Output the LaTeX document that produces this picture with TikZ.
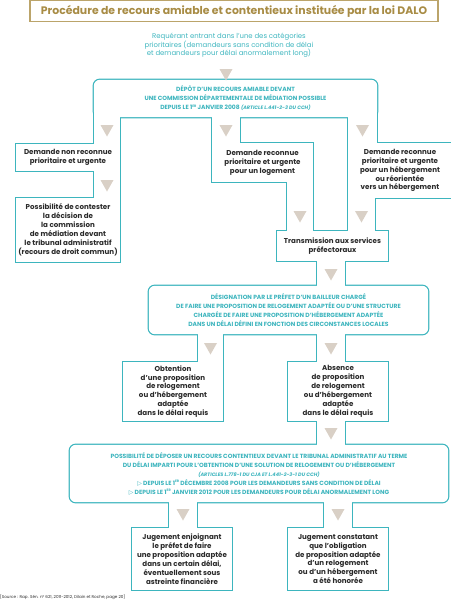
\documentclass[tikz,border=0pt]{standalone}
\usepackage{fontspec}
\setmainfont{Poppins}
\newfontfamily\dejavu{DejaVu Sans}
\usetikzlibrary{calc}
\pgfdeclarelayer{strk}
\pgfdeclarelayer{fil}
\pgfsetlayers{strk,fil,main}
\definecolor{tealc}{HTML}{3DB5BE}
\definecolor{taupe}{HTML}{D9D0C6}
\definecolor{goldline}{HTML}{BBA46A}
\definecolor{goldtext}{HTML}{A88C45}
\definecolor{txt}{HTML}{2A2A2A}
\tikzset{
  boxtext/.style={font=\fontsize{7.1}{8.9}\selectfont\bfseries, text=txt, align=center, inner sep=0pt},
  captext/.style={font=\fontsize{6.0}{9}\selectfont\bfseries, text=tealc, align=center, inner sep=0pt},
}
\newcommand\partshape[1]{%
  \begin{pgfonlayer}{strk}\draw[tealc, line width=2.4pt] #1;\end{pgfonlayer}%
  \begin{pgfonlayer}{fil}\fill[white] #1;\end{pgfonlayer}}
\newcommand\pipe[4]{\partshape{let \p1=(#3.south), \p2=(#4.north) in (#1pt,\y1+4pt) rectangle (#2pt,\y2-4pt)}}
\newcommand\boxpart[1]{\partshape{(#1.north west) rectangle (#1.south east)}}
\newcommand\rboxpart[1]{\partshape{[rounded corners=6pt] (#1.north west) rectangle (#1.south east)}}
\newcommand\tri[2]{\fill[taupe] (#1-6.5,#2) -- (#1+6.5,#2) -- (#1,#2+11.5) -- cycle;}
\newcommand\artfont{\fontsize{4.9}{9}\selectfont\itshape}
\newcommand\ordER{\raisebox{2.2pt}{\fontsize{3.4}{4}\selectfont ER}}
\begin{document}
\begin{tikzpicture}[x=1pt,y=-1pt]
\useasboundingbox (0,0) rectangle (450,605);
% title
\node[draw=goldline, line width=1.8pt, minimum width=408pt, minimum height=21pt, inner sep=0pt,
  font=\fontsize{10.9}{12}\selectfont\bfseries, text=goldtext] (title) at (234,11) {Procédure de recours amiable et contentieux instituée par la loi DALO};
\node[font=\fontsize{6.9}{8.5}\selectfont, text=tealc, align=center, inner sep=0pt] (req) at (229,45.5)
  {Requérant entrant dans l’une des catégories\\prioritaires (demandeurs sans condition de délai\\et demandeurs pour délai anormalement long)};
% nodes
\node[captext, minimum width=283pt, minimum height=37pt] (depot) at (235.5,98.5)
  {DÉPÔT D’UN RECOURS AMIABLE DEVANT\\UNE COMMISSION DÉPARTEMENTALE DE MÉDIATION POSSIBLE\\DEPUIS LE 1\ordER{} JANVIER 2008 {\artfont (ARTICLE L.441-2-3 DU CCH)}};
\node[boxtext, minimum width=104pt, minimum height=27pt] (nonrec) at (68,157.5)
  {Demande non reconnue\\prioritaire et urgente};
\node[boxtext, minimum width=104pt, minimum height=64pt] (possib) at (68,230)
  {Possibilité de contester\\la décision de\\la commission\\de médiation devant\\le tribunal administratif\\(recours de droit commun)};
\node[boxtext, minimum width=101pt, minimum height=39pt] (logement) at (262.5,162.5)
  {Demande reconnue\\prioritaire et urgente\\pour un logement};
\node[boxtext, minimum width=104pt, minimum height=55pt] (heberg) at (400,170.5)
  {Demande reconnue\\prioritaire et urgente\\pour un hébergement\\ou réorientée\\vers un hébergement};
\node[boxtext, minimum width=111pt, minimum height=30pt] (trans) at (332.5,246)
  {Transmission aux services\\préfectoraux};
\node[captext, minimum width=279pt, minimum height=48pt] (desig) at (288.5,310)
  {DÉSIGNATION PAR LE PRÉFET D’UN BAILLEUR CHARGÉ\\DE FAIRE UNE PROPOSITION DE RELOGEMENT ADAPTÉE OU D’UNE STRUCTURE\\CHARGÉE DE FAIRE UNE PROPOSITION D’HÉBERGEMENT ADAPTÉE\\DANS UN DÉLAI DÉFINI EN FONCTION DES CIRCONSTANCES LOCALES};
\node[boxtext, minimum width=100pt, minimum height=59pt] (obt) at (173,391.5)
  {Obtention\\d’une proposition\\de relogement\\ou d’hébergement\\adaptée\\dans le délai requis};
\node[boxtext, minimum width=100pt, minimum height=59pt] (abs) at (338,391.5)
  {Absence\\de proposition\\de relogement\\ou d’hébergement\\adaptée\\dans le délai requis};
\node[captext, minimum width=378pt, minimum height=57pt] (conten) at (259,473.5)
  {POSSIBILITÉ DE DÉPOSER UN RECOURS CONTENTIEUX DEVANT LE TRIBUNAL ADMINISTRATIF AU TERME\\DU DÉLAI IMPARTI POUR L’OBTENTION D’UNE SOLUTION DE RELOGEMENT OU D’HÉBERGEMENT\\{\artfont (ARTICLES L.778-1 DU CJA ET L.441-2-3-1 DU CCH)}\\{\dejavu\mdseries ▷} DEPUIS LE 1\ordER{} DÉCEMBRE 2008 POUR LES DEMANDEURS SANS CONDITION DE DÉLAI\\{\dejavu\mdseries ▷} DEPUIS LE 1\ordER{} JANVIER 2012 POUR LES DEMANDEURS POUR DÉLAI ANORMALEMENT LONG};
\node[boxtext, minimum width=100pt, minimum height=62pt] (jug1) at (182,559)
  {Jugement enjoignant\\le préfet de faire\\une proposition adaptée\\dans un certain délai,\\éventuellement sous\\astreinte financière};
\node[boxtext, minimum width=100pt, minimum height=62pt] (jug2) at (338,559)
  {Jugement constatant\\que l’obligation\\de proposition adaptée\\d’un relogement\\ou d’un hébergement\\a été honorée};
\node[anchor=west, inner sep=0pt, text=txt] (src) at (0,597)
  {\resizebox{125pt}{!}{\fontsize{5.5}{6}\selectfont [Source : Rap. Sén. n° 621, 2011-2012, Dilain et Roche, page 20]}};
% outlines (union of boxes and channels)
\rboxpart{depot}
\boxpart{nonrec}
\boxpart{possib}
\boxpart{logement}
\boxpart{heberg}
\boxpart{trans}
\rboxpart{desig}
\boxpart{obt}
\boxpart{abs}
\rboxpart{conten}
\boxpart{jug1}
\boxpart{jug2}
\pipe{94}{120}{depot}{possib}
\pipe{212}{240}{depot}{logement}
\pipe{348}{377}{depot}{heberg}
\pipe{287}{313}{logement}{trans}
\pipe{348}{375}{heberg}{trans}
\pipe{317}{345}{trans}{desig}
\pipe{198}{223}{desig}{obt}
\pipe{317}{345}{desig}{abs}
\pipe{317}{345}{abs}{conten}
\pipe{169}{197}{conten}{jug1}
\pipe{324}{352}{conten}{jug2}
% flow triangles
\tri{226}{69}
\tri{107}{125}
\tri{107}{180}
\tri{226}{125}
\tri{362.5}{125}
\tri{300}{211}
\tri{361.5}{211}
\tri{331}{269}
\tri{210.5}{343}
\tri{331}{343}
\tri{331}{428}
\tri{183}{509}
\tri{338}{509}
\end{tikzpicture}
\end{document}
